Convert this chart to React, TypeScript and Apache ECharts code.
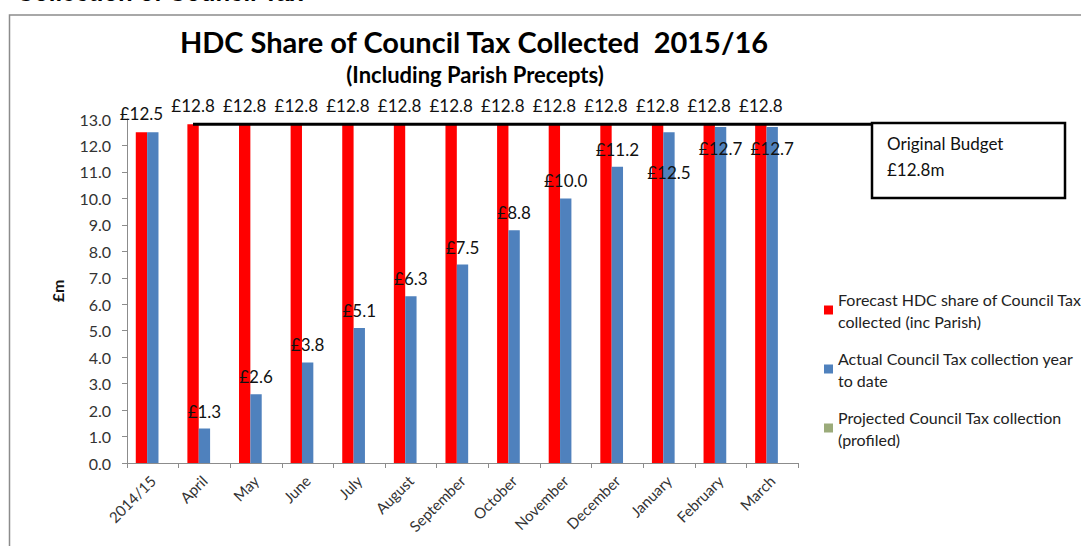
import React, { useEffect, useRef } from "react";
import * as echarts from "echarts";

const categories = ["2014/15", "April", "May", "June", "July", "August", "September", "October", "November", "December", "January", "February", "March"];
const forecast = [12.5, 12.8, 12.8, 12.8, 12.8, 12.8, 12.8, 12.8, 12.8, 12.8, 12.8, 12.8, 12.8];
const actual = [12.5, 1.3, 2.6, 3.8, 5.1, 6.3, 7.5, 8.8, 10.0, 11.2, 12.5, 12.7, 12.7];
const projected: (number | null)[] = [null, null, null, null, null, null, null, null, null, null, null, null, null];
const seriesNames = [
  "Forecast HDC share of Council Tax\ncollected (inc Parish)",
  "Actual Council Tax collection year\nto date",
  "Projected Council Tax collection\n(profiled)",
];
const budget = 12.8;
const budgetText = "Original Budget\n£12.8m";
const titleText = "HDC Share of Council Tax Collected  2015/16";
const subtitleText = "(Including Parish Precepts)";
const headingText = "Collection of Council Tax";
// manual label nudges (pixels) for crowded actual labels; null hides the label
const actualLabelShift: Record<string, number | null> = { "2014/15": null, January: 58, February: 39, March: 39 };

const FONT = "Lato, 'Open Sans', sans-serif";
const fmt = (p: any) => "£" + Number(p.value).toFixed(1);

export default function App() {
  const ref = useRef<HTMLDivElement>(null);
  useEffect(() => {
    if (!ref.current) return;
    const chart = echarts.init(ref.current, undefined, { renderer: "svg" });
    const labelBase = { show: true, position: "top", distance: 9, color: "#111", fontSize: 17, fontFamily: FONT, formatter: fmt };
    chart.setOption({
      animation: false,
      backgroundColor: "#fff",
      grid: { left: 127, right: 283, top: 119, bottom: 83 },
      legend: {
        orient: "vertical",
        left: 819,
        top: 272,
        itemWidth: 9,
        itemHeight: 9,
        itemGap: -7,
        icon: "rect",
        data: seriesNames,
        textStyle: { fontSize: 16, fontFamily: FONT, color: "#222", lineHeight: 22, padding: [22, 0, 0, 0] },
      },
      xAxis: {
        type: "category",
        data: categories,
        axisLine: { lineStyle: { color: "#8c8c8c" } },
        axisTick: { show: true, length: 5, lineStyle: { color: "#8c8c8c" } },
        axisLabel: { rotate: 45, fontSize: 15, fontFamily: FONT, color: "#333", margin: 15, interval: 0 },
      },
      yAxis: {
        type: "value",
        min: 0,
        max: 13,
        interval: 1,
        name: "£m",
        nameLocation: "middle",
        nameRotate: 90,
        nameGap: 62,
        nameTextStyle: { fontWeight: "bold", fontSize: 16, fontFamily: FONT, color: "#111" },
        axisLine: { show: true, lineStyle: { color: "#8c8c8c" } },
        axisTick: { show: true, length: 5, lineStyle: { color: "#8c8c8c" } },
        splitLine: { show: false },
        axisLabel: { fontSize: 16, fontFamily: FONT, color: "#333", margin: 16, formatter: (v: number) => v.toFixed(1) },
      },
      series: [
        {
          name: seriesNames[0],
          type: "bar",
          data: forecast,
          itemStyle: { color: "#ff0000" },
          barGap: "0%",
          barCategoryGap: "34%",
          label: { ...labelBase, distance: 10 },
        },
        {
          name: seriesNames[1],
          type: "bar",
          data: actual.map((v, i) => {
            const c = categories[i];
            if (!(c in actualLabelShift)) return v;
            const s = actualLabelShift[c];
            return s === null ? { value: v, label: { show: false } } : { value: v, label: { offset: [0, s] } };
          }),
          itemStyle: { color: "#4f81bd" },
          barGap: "0%",
          barCategoryGap: "34%",
          label: labelBase,
        },
        {
          name: seriesNames[2],
          type: "bar",
          data: projected,
          itemStyle: { color: "#9bab7a" },
          barGap: "0%",
          barCategoryGap: "34%",
        },
      ],
    });
    const yb = chart.convertToPixel({ yAxisIndex: 0 }, budget) as number;
    chart.setOption({
      graphic: [
        { type: "rect", shape: { x: 9.5, y: 15, width: 1200, height: 700 }, style: { fill: "none", stroke: "#8c8c8c", lineWidth: 1.5 }, silent: true, z: 0 },
        { type: "text", x: 303, y: 4, style: { text: headingText, textAlign: "right", textVerticalAlign: "bottom", font: "bold 24px 'Liberation Sans', Arial, sans-serif", fill: "#000" } },
        { type: "text", x: 474, y: 41, style: { text: titleText, textAlign: "center", textVerticalAlign: "middle", font: `bold 29px ${FONT}`, fill: "#000" } },
        { type: "text", x: 475, y: 74, style: { text: subtitleText, textAlign: "center", textVerticalAlign: "middle", font: `bold 22px ${FONT}`, fill: "#000" } },
        { type: "line", shape: { x1: 193, y1: yb, x2: 873, y2: yb }, style: { stroke: "#000", lineWidth: 3 }, z: 10 },
        { type: "rect", shape: { x: 872, y: 123, width: 193, height: 75 }, style: { fill: "#fff", stroke: "#000", lineWidth: 2.5 }, z: 10 },
        { type: "text", x: 887, y: 130, style: { text: budgetText, font: `17px ${FONT}`, lineHeight: 26, fill: "#111" }, z: 11 },
      ],
    });
    return () => chart.dispose();
  }, []);
  return <div ref={ref} style={{ position: "fixed", left: 0, top: 0, width: 1081, height: 546 }} />;
}
